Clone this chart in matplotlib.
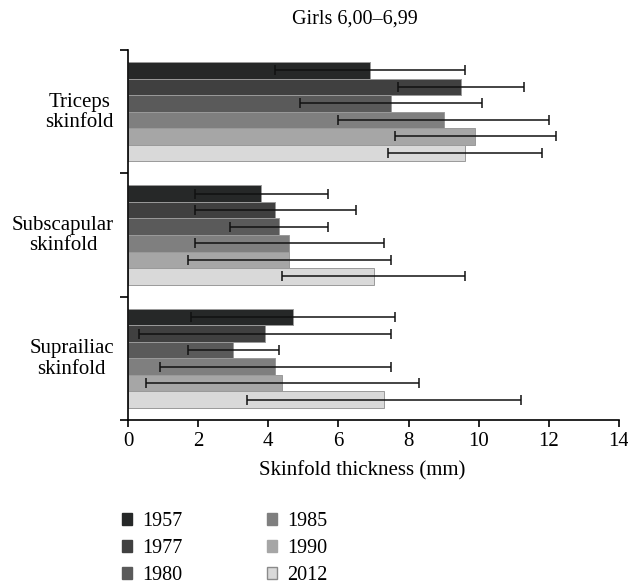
import numpy as np
import matplotlib
matplotlib.use('Agg')
import matplotlib.pyplot as plt
from matplotlib.patches import Patch

plt.rcParams['font.family'] = ['Liberation Serif', 'DejaVu Serif']
plt.rcParams['font.size'] = 15

# data (mean and SD, mm)
SITES = ['Triceps\nskinfold', 'Subscapular\nskinfold', 'Suprailiac\nskinfold']
YEARS = ['1957', '1977', '1980', '1985', '1990', '2012']
COLORS = ['#262828', '#404040', '#5a5a5a', '#7f7f7f', '#a6a6a6', '#d9d9d9']

TRICEPS = [6.9, 9.5, 7.5, 9.0, 9.9, 9.6]
TRICEPS_SD = [2.7, 1.8, 2.6, 3.0, 2.3, 2.2]
SUBSCAPULAR = [3.8, 4.2, 4.3, 4.6, 4.6, 7.0]
SUBSCAPULAR_SD = [1.9, 2.3, 1.4, 2.7, 2.9, 2.6]
SUPRAILIAC = [4.7, 3.9, 3.0, 4.2, 4.4, 7.3]
SUPRAILIAC_SD = [2.9, 3.6, 1.3, 3.3, 3.9, 3.9]

XTICKS = [0, 2, 4, 6, 8, 10, 12, 14]


def main():
    means = np.array([TRICEPS, SUBSCAPULAR, SUPRAILIAC])
    sds = np.array([TRICEPS_SD, SUBSCAPULAR_SD, SUPRAILIAC_SD])

    fig = plt.figure(figsize=(6.28, 5.85), dpi=100)
    ax = fig.add_axes([128 / 628, 1 - 420 / 585, 491 / 628, 370 / 585])

    centers = np.arange(len(SITES))
    h = 0.134
    for j, year in enumerate(YEARS):
        y = centers - 3 * h + (j + 0.5) * h
        ax.barh(y, means[:, j], height=h, color=COLORS[j],
                edgecolor='#9a9a9a', linewidth=0.7, label=year, zorder=2)
        ax.errorbar(means[:, j], y, xerr=sds[:, j], fmt='none',
                    ecolor='#111111', elinewidth=1.1, capsize=3.5,
                    capthick=1.1, zorder=3)

    ax.set_ylim(2.5, -0.5)
    ax.set_xlim(0, 14)
    ax.set_xticks(XTICKS)
    ax.set_yticks([-0.5, 0.5, 1.5, 2.5])
    ax.set_yticklabels([])
    ax.set_yticks(centers - 0.02, minor=True)
    ax.set_yticklabels(SITES, minor=True)
    ax.tick_params(axis='y', which='minor', length=0, pad=10)
    ax.tick_params(axis='y', which='major', length=6, width=1.2)
    ax.tick_params(axis='x', length=5, width=1.2, pad=4)
    for lab in ax.get_yticklabels(minor=True):
        lab.set_multialignment('center')
        lab.set_linespacing(1.1)

    for side in ['top', 'right']:
        ax.spines[side].set_visible(False)
    for side in ['left', 'bottom']:
        ax.spines[side].set_linewidth(1.2)

    ax.set_xlabel('Skinfold thickness (mm)')
    ax.xaxis.set_label_coords((362 - 128) / 491, -0.11)
    fig.text(355 / 628, 1 - 19 / 585, 'Girls 6,00\u20136,99',
             ha='center', va='center', fontsize=14.5)

    handles = []
    for j, year in enumerate(YEARS):
        edge = '#8a8a8a' if j == len(YEARS) - 1 else COLORS[j]
        handles.append(Patch(facecolor=COLORS[j], edgecolor=edge,
                             linewidth=1.0, label=year))
    fig.legend(handles=handles, ncol=2, frameon=False, fontsize=14.5,
               loc='upper left', bbox_to_anchor=(122 / 628, 1 - 512 / 585),
               borderaxespad=0, borderpad=0,
               handlelength=0.5, handleheight=0.5, handletextpad=0.5,
               columnspacing=4.2, labelspacing=0.4)

    fig.savefig('out.png', dpi=100)


if __name__ == '__main__':
    main()
